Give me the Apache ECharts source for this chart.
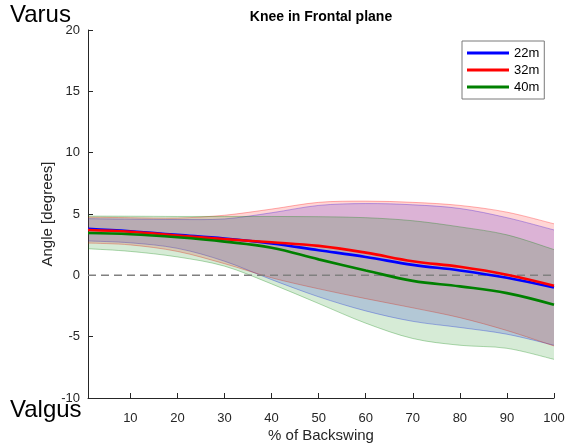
<!DOCTYPE html>
<html>
<head>
<meta charset="utf-8">
<script src="https://cdn.jsdelivr.net/npm/echarts@6/dist/echarts.min.js"></script>
<style>html,body{margin:0;padding:0;background:#fff;}#c{width:567px;height:445px;}</style>
</head>
<body>
<div id="c"></div>
<script>
// % of backswing sample positions
const xs = [1, 10, 20, 30, 40, 50, 60, 70, 80, 90, 100];
const xTicks = [10, 20, 30, 40, 50, 60, 70, 80, 90, 100];
const seriesNames = ['22m', '32m', '40m'];

// 22m
const mean22  = [3.8, 3.6, 3.3, 3.0, 2.6, 2.05, 1.5, 0.85, 0.4, -0.2, -1.0];
const upper22 = [4.62, 4.58, 4.55, 4.6, 5.1, 5.7, 5.85, 5.75, 5.45, 4.7, 3.7];
const lower22 = [2.8, 2.65, 2.2, 1.15, -0.35, -1.75, -2.9, -3.75, -4.25, -4.8, -5.7];
// 32m
const mean32  = [3.7, 3.55, 3.25, 2.95, 2.7, 2.4, 1.85, 1.15, 0.7, 0.05, -0.85];
const upper32 = [4.75, 4.7, 4.67, 4.9, 5.4, 5.95, 6.05, 5.95, 5.7, 5.15, 4.2];
const lower32 = [2.63, 2.48, 1.95, 0.95, -0.2, -1.1, -1.9, -2.65, -3.45, -4.5, -5.76];
// 40m
const mean40  = [3.45, 3.35, 3.1, 2.75, 2.25, 1.3, 0.4, -0.45, -0.9, -1.45, -2.4];
const upper40 = [4.83, 4.82, 4.8, 4.8, 4.8, 4.78, 4.7, 4.45, 3.95, 3.3, 2.1];
const lower40 = [2.17, 1.95, 1.5, 0.75, -0.7, -2.3, -3.9, -5.15, -5.7, -5.95, -6.85];

const zeroLine = [[1, 0], [100, 0]];

const groups = [
  {name: seriesNames[0], mean: mean22, up: upper22, lo: lower22, color: '#0000ff', rgb: '0,0,255'},
  {name: seriesNames[1], mean: mean32, up: upper32, lo: lower32, color: '#ff0000', rgb: '255,0,0'},
  {name: seriesNames[2], mean: mean40, up: upper40, lo: lower40, color: '#008000', rgb: '0,128,0'}
];

// Catmull-Rom spline through pixel points -> SVG path commands (without initial M)
function splineCmds(pts) {
  let d = '';
  const n = pts.length;
  for (let i = 0; i < n - 1; i++) {
    const p0 = pts[Math.max(i - 1, 0)], p1 = pts[i], p2 = pts[i + 1], p3 = pts[Math.min(i + 2, n - 1)];
    const c1x = p1[0] + (p2[0] - p0[0]) / 6, c1y = p1[1] + (p2[1] - p0[1]) / 6;
    const c2x = p2[0] - (p3[0] - p1[0]) / 6, c2y = p2[1] - (p3[1] - p1[1]) / 6;
    d += ' C' + c1x + ' ' + c1y + ' ' + c2x + ' ' + c2y + ' ' + p2[0] + ' ' + p2[1];
  }
  return d;
}

const series = [];
groups.forEach(function (g) {
  series.push({
    name: 'band' + g.name, type: 'custom', silent: true, z: 1,
    data: xs.map(function (x, i) { return [x, g.lo[i], g.up[i]]; }),
    encode: {x: 0, y: [1, 2]},
    renderItem: function (params, api) {
      if (params.dataIndex !== 0) return null;
      const up = xs.map(function (x, i) { return api.coord([x, g.up[i]]); });
      const lo = xs.map(function (x, i) { return api.coord([x, g.lo[i]]); });
      const loRev = lo.slice().reverse();
      const fillD = 'M' + up[0][0] + ' ' + up[0][1] + splineCmds(up) +
        ' L' + loRev[0][0] + ' ' + loRev[0][1] + splineCmds(loRev) + ' Z';
      const upD = 'M' + up[0][0] + ' ' + up[0][1] + splineCmds(up);
      const loD = 'M' + lo[0][0] + ' ' + lo[0][1] + splineCmds(lo);
      return {
        type: 'group',
        children: [
          {type: 'path', shape: {pathData: fillD}, style: {fill: 'rgba(' + g.rgb + ',0.16)', stroke: null}},
          {type: 'path', shape: {pathData: upD}, style: {fill: null, stroke: 'rgba(' + g.rgb + ',0.3)', lineWidth: 1}},
          {type: 'path', shape: {pathData: loD}, style: {fill: null, stroke: 'rgba(' + g.rgb + ',0.3)', lineWidth: 1}}
        ]
      };
    }
  });
});

series.push({
  name: 'zero', type: 'line', data: zeroLine, symbol: 'none', silent: true, z: 2,
  lineStyle: {color: '#808080', width: 1.5, type: [8, 5]}
});

groups.forEach(function (g) {
  series.push({
    name: g.name, type: 'line',
    data: xs.map(function (x, i) { return [x, g.mean[i]]; }),
    symbol: 'none', smooth: 0.4, z: 3,
    itemStyle: {color: g.color},
    lineStyle: {color: g.color, width: 2.6}
  });
});

const chart = echarts.init(document.getElementById('c'), null, {renderer: 'canvas'});
chart.setOption({
  animation: false,
  backgroundColor: '#ffffff',
  textStyle: {fontFamily: 'Liberation Sans, Arial, sans-serif'},
  grid: {left: 88, right: 13, top: 30, bottom: 47, containLabel: false, outerBoundsMode: 'none'},
  xAxis: {
    type: 'value', min: 1, max: 100,
    name: '% of Backswing', nameLocation: 'middle', nameGap: 30, nameMoveOverlap: false,
    nameTextStyle: {fontSize: 15, color: '#262626'},
    axisLine: {show: true, onZero: false, lineStyle: {color: '#262626', width: 1}},
    axisTick: {show: true, inside: true, length: 5, customValues: xTicks, lineStyle: {color: '#262626'}},
    axisLabel: {customValues: xTicks, fontSize: 13, color: '#262626', margin: 14},
    splitLine: {show: false}
  },
  yAxis: {
    type: 'value', min: -10, max: 20, interval: 5,
    name: 'Angle [degrees]', nameLocation: 'middle', nameGap: 33, nameRotate: 90, nameMoveOverlap: false,
    nameTextStyle: {fontSize: 15, color: '#262626'},
    axisLine: {show: true, onZero: false, lineStyle: {color: '#262626', width: 1}},
    axisTick: {show: true, inside: true, length: 5, lineStyle: {color: '#262626'}},
    axisLabel: {fontSize: 13, color: '#262626', margin: 8},
    splitLine: {show: false}
  },
  legend: {
    data: seriesNames, orient: 'vertical', left: 462, top: 41,
    padding: [5, 5, 5, 5], itemGap: 3, itemWidth: 42, itemHeight: 3, icon: 'rect',
    itemTextGap: 4,
    borderColor: '#7a7a7a', borderWidth: 1, backgroundColor: '#ffffff',
    textStyle: {fontSize: 13, color: '#000', lineHeight: 14}
  },
  graphic: [
    {type: 'text', x: 321, y: 17, z: 10,
      style: {text: 'Knee in Frontal plane', fill: '#000', font: 'bold 14px "Liberation Sans", Arial, sans-serif', align: 'center', verticalAlign: 'middle'}},
    {type: 'text', x: 10, y: 15, z: 10,
      style: {text: 'Varus', fill: '#000', font: '24px "Liberation Sans", Arial, sans-serif', align: 'left', verticalAlign: 'middle'}},
    {type: 'text', x: 10, y: 410, z: 10,
      style: {text: 'Valgus', fill: '#000', font: '24px "Liberation Sans", Arial, sans-serif', align: 'left', verticalAlign: 'middle'}}
  ],
  series: series
});
</script>
</body>
</html>
